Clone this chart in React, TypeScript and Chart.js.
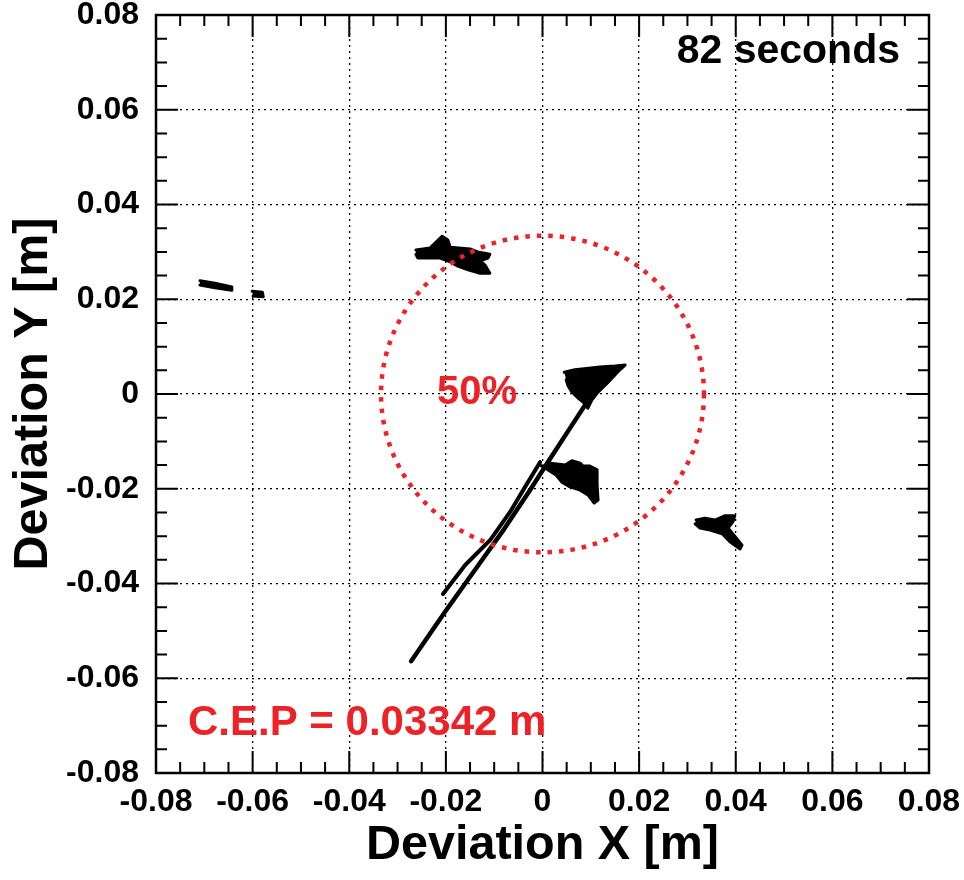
import React, { useEffect, useRef } from "react";
import { Chart, registerables } from "chart.js";
Chart.register(...registerables);

// ---- axis / labels ----
const AXIS_MIN = -0.08;
const AXIS_MAX = 0.08;
const MAJOR_STEP = 0.02;
const MINOR_PER_MAJOR = 4;
const X_TITLE = "Deviation X [m]";
const Y_TITLE = "Deviation Y [m]";
const TIME_LABEL = "82 seconds";
const CEP_VALUE = 0.03342;
const CEP_LABEL = "C.E.P = 0.03342 m";
const CIRCLE_LABEL = "50%";

// ---- data (deviation in metres) ----
const trackAX = [-0.0272, -0.0202, -0.0134, -0.0078, -0.0026, 0.0011, 0.0057, 0.0098];
const trackAY = [-0.0564, -0.0460, -0.0363, -0.0283, -0.0203, -0.0144, -0.0072, -0.0008];

const trackBX = [-0.0206, -0.0160, -0.0108, -0.0067, -0.0036, -0.0005];
const trackBY = [-0.0422, -0.0361, -0.0308, -0.0249, -0.0196, -0.0144];

const blobTopLeftX = [-0.0262, -0.0233, -0.0216, -0.0208, -0.0196, -0.0191, -0.0150, -0.0134, -0.0109, -0.0113, -0.0129, -0.0119, -0.0109, -0.0129, -0.0154, -0.0175, -0.0191, -0.0212, -0.0258, -0.0262];
const blobTopLeftY = [0.0304, 0.0308, 0.0325, 0.0333, 0.0325, 0.0310, 0.0306, 0.0300, 0.0295, 0.0287, 0.0281, 0.0272, 0.0255, 0.0255, 0.0262, 0.0270, 0.0279, 0.0287, 0.0287, 0.0295];

const blobFarLeftX = [-0.0709, -0.0678, -0.0643, -0.0643, -0.0678, -0.0709];
const blobFarLeftY = [0.0239, 0.0234, 0.0226, 0.0219, 0.0224, 0.0230];

const blobSmallX = [-0.0601, -0.0580, -0.0578, -0.0599];
const blobSmallY = [0.0217, 0.0215, 0.0205, 0.0207];

const blobCenterX = [0.0045, 0.0067, 0.0119, 0.0150, 0.0171, 0.0160, 0.0136, 0.0115, 0.0102, 0.0094, 0.0084, 0.0073, 0.0061, 0.0053, 0.0049];
const blobCenterY = [0.0046, 0.0051, 0.0057, 0.0059, 0.0061, 0.0051, 0.0025, 0.0004, -0.0013, -0.0030, -0.0017, -0.0008, 0.0004, 0.0017, 0.0030];

const blobLowerX = [0.0016, 0.0047, 0.0061, 0.0078, 0.0084, 0.0098, 0.0113, 0.0113, 0.0115, 0.0107, 0.0094, 0.0078, 0.0057, 0.0040, 0.0028, 0.0011, -0.0005];
const blobLowerY = [-0.0146, -0.0150, -0.0141, -0.0146, -0.0152, -0.0152, -0.0160, -0.0192, -0.0224, -0.0230, -0.0213, -0.0203, -0.0196, -0.0186, -0.0171, -0.0160, -0.0150];

const blobRightX = [0.0318, 0.0336, 0.0357, 0.0378, 0.0398, 0.0394, 0.0384, 0.0398, 0.0413, 0.0409, 0.0388, 0.0372, 0.0347, 0.0326, 0.0316];
const blobRightY = [-0.0266, -0.0262, -0.0266, -0.0257, -0.0257, -0.0270, -0.0283, -0.0300, -0.0319, -0.0327, -0.0312, -0.0295, -0.0287, -0.0283, -0.0274];

const RED = "#ee2226";
const FONT = "'Liberation Sans', Arial, Helvetica, sans-serif";

const pts = (xs: number[], ys: number[]) => xs.map((x, i) => ({ x, y: ys[i] }));

const seg = (xs: number[], ys: number[], w: number, filled: boolean) => ({
  data: pts(xs, ys),
  showLine: true,
  borderColor: "#000",
  backgroundColor: "#000",
  borderWidth: w,
  pointRadius: 0,
  borderJoinStyle: "round" as const,
  borderCapStyle: "round" as const,
  tension: 0,
  fill: filled ? "shape" : false,
});

const fmt = (v: number) => {
  const r = Math.round(v * 100) / 100;
  if (Math.abs(r) < 1e-9) return "0";
  return r.toFixed(2);
};

const overlay = {
  id: "overlay",
  afterDatasetsDraw(chart: any) {
    const { ctx, chartArea, scales } = chart;
    const { left, right, top, bottom } = chartArea;
    const xs = scales.x;
    const ys = scales.y;

    // CEP circle
    const cx = xs.getPixelForValue(0);
    const cy = ys.getPixelForValue(0);
    const rx = Math.abs(xs.getPixelForValue(CEP_VALUE) - cx);
    const ry = Math.abs(ys.getPixelForValue(CEP_VALUE) - cy);
    ctx.save();
    ctx.strokeStyle = RED;
    ctx.lineWidth = 4.5;
    ctx.setLineDash([4.5, 7]);
    ctx.beginPath();
    ctx.ellipse(cx, cy, rx, ry, 0, 0, Math.PI * 2);
    ctx.stroke();
    ctx.restore();

    // ticks on all four sides
    ctx.save();
    ctx.strokeStyle = "#000";
    ctx.lineWidth = 2;
    const nMinor = Math.round((AXIS_MAX - AXIS_MIN) / (MAJOR_STEP / MINOR_PER_MAJOR));
    for (let i = 0; i <= nMinor; i++) {
      const v = AXIS_MIN + (i * MAJOR_STEP) / MINOR_PER_MAJOR;
      const len = i % MINOR_PER_MAJOR === 0 ? 22 : 11;
      const px = xs.getPixelForValue(v);
      const py = ys.getPixelForValue(v);
      ctx.beginPath();
      ctx.moveTo(px, bottom); ctx.lineTo(px, bottom - len);
      ctx.moveTo(px, top); ctx.lineTo(px, top + len);
      ctx.moveTo(left, py); ctx.lineTo(left + len, py);
      ctx.moveTo(right, py); ctx.lineTo(right - len, py);
      ctx.stroke();
    }
    // frame
    ctx.lineWidth = 2.5;
    ctx.strokeRect(left, top, right - left, bottom - top);
    ctx.restore();

    // annotations
    ctx.save();
    ctx.textBaseline = "alphabetic";
    ctx.fillStyle = "#000";
    ctx.font = `bold 41px ${FONT}`;
    ctx.textAlign = "right";
    ctx.fillText(TIME_LABEL, right - 29, top + 48);
    ctx.fillStyle = RED;
    ctx.textAlign = "left";
    ctx.font = `bold 42px ${FONT}`;
    ctx.fillText(CEP_LABEL, left + 32, bottom - 38);
    ctx.font = `bold 40px ${FONT}`;
    ctx.fillText(CIRCLE_LABEL, left + 281, top + 389);
    ctx.restore();
  },
};

export default function App() {
  const ref = useRef<HTMLCanvasElement | null>(null);
  useEffect(() => {
    if (!ref.current) return;
    const chart = new Chart(ref.current, {
      type: "scatter",
      data: {
        datasets: [
          seg(trackAX, trackAY, 4.5, false),
          seg(trackBX, trackBY, 4, false),
          seg(blobTopLeftX, blobTopLeftY, 3, true),
          seg(blobFarLeftX, blobFarLeftY, 3, true),
          seg(blobSmallX, blobSmallY, 3, true),
          seg(blobCenterX, blobCenterY, 3, true),
          seg(blobLowerX, blobLowerY, 3, true),
          seg(blobRightX, blobRightY, 3, true),
        ],
      },
      options: {
        responsive: false,
        animation: false,
        layout: { padding: { top: 15, right: 35, left: 0, bottom: 0 } },
        plugins: { legend: { display: false }, tooltip: { enabled: false } },
        scales: {
          x: {
            type: "linear",
            min: AXIS_MIN,
            max: AXIS_MAX,
            afterFit: (s: any) => { s.height = 107; s.paddingLeft = 0; s.paddingRight = 0; },
            ticks: {
              stepSize: MAJOR_STEP,
              color: "#000",
              font: { family: FONT, size: 32, weight: "bold" },
              padding: 10,
              maxRotation: 0,
              autoSkip: false,
              callback: (v: any) => fmt(Number(v)),
            },
            grid: { color: "#000", lineWidth: 1.3, drawTicks: false },
            border: { display: false, dash: [2, 4] },
            title: {
              display: true,
              text: X_TITLE,
              color: "#000",
              font: { family: FONT, size: 48.5, weight: "bold" },
              padding: { top: 0, bottom: 5 },
            },
          },
          y: {
            type: "linear",
            min: AXIS_MIN,
            max: AXIS_MAX,
            afterFit: (s: any) => { s.width = 156; s.paddingTop = 0; s.paddingBottom = 0; },
            ticks: {
              stepSize: MAJOR_STEP,
              color: "#000",
              font: { family: FONT, size: 32, weight: "bold" },
              padding: 17,
              autoSkip: false,
              callback: (v: any) => fmt(Number(v)),
            },
            grid: { color: "#000", lineWidth: 1.3, drawTicks: false },
            border: { display: false, dash: [2, 4] },
            title: {
              display: true,
              text: Y_TITLE,
              color: "#000",
              font: { family: FONT, size: 48.5, weight: "bold" },
              padding: { top: 5, bottom: 0 },
            },
          },
        },
      },
      plugins: [overlay],
    });
    return () => chart.destroy();
  }, []);

  return (
    <div style={{ position: "absolute", left: 0, top: 0, width: 964, height: 880, background: "#fff" }}>
      <canvas ref={ref} width={964} height={880} style={{ width: 964, height: 880 }} />
    </div>
  );
}
